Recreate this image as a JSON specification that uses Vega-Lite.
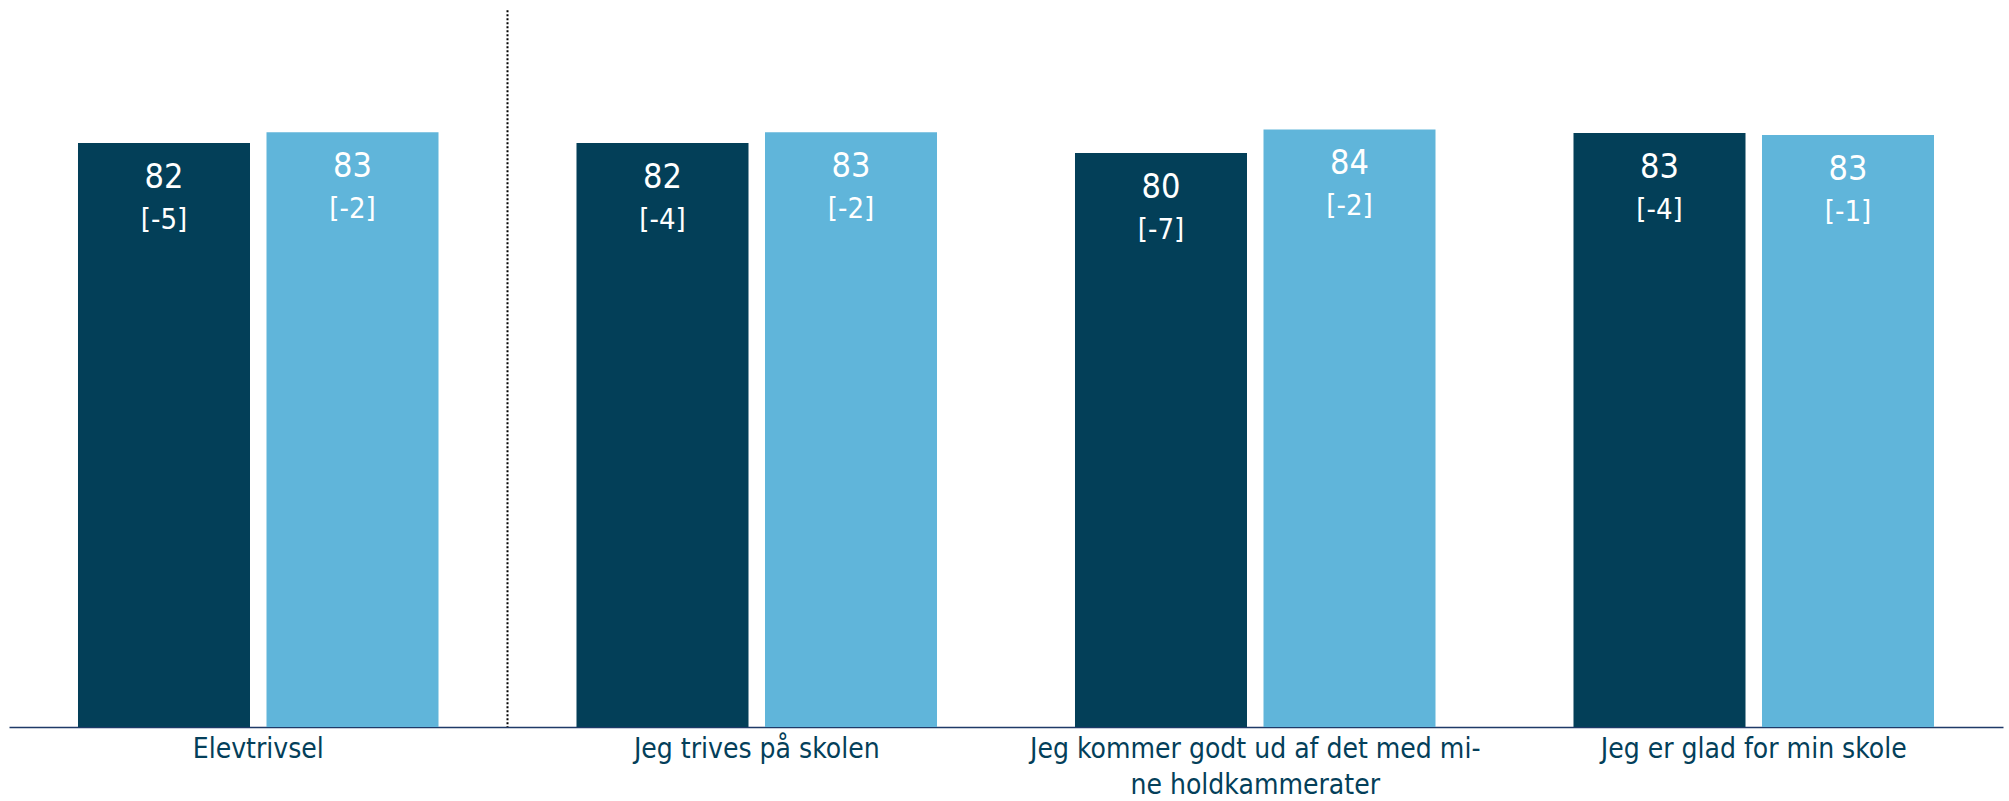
{
  "$schema": "https://vega.github.io/schema/vega-lite/v6.json",
  "width": 1994,
  "height": 714,
  "autosize": "none",
  "padding": {"left": 9, "top": 13, "right": 6, "bottom": 74},
  "background": "white",
  "config": {"view": {"stroke": null}, "font": "DejaVu Sans Condensed"},
  "data": {
    "values": [
      {"kategori": "Elevtrivsel", "gruppe": "A", "vaerdi": 81.8, "tal": "82", "aendring": "[-5]"},
      {"kategori": "Elevtrivsel", "gruppe": "B", "vaerdi": 83.3, "tal": "83", "aendring": "[-2]"},
      {"kategori": "Jeg trives på skolen", "gruppe": "A", "vaerdi": 81.8, "tal": "82", "aendring": "[-4]"},
      {"kategori": "Jeg trives på skolen", "gruppe": "B", "vaerdi": 83.3, "tal": "83", "aendring": "[-2]"},
      {"kategori": "Jeg kommer godt ud af det med mine holdkammerater", "gruppe": "A", "vaerdi": 80.4, "tal": "80", "aendring": "[-7]"},
      {"kategori": "Jeg kommer godt ud af det med mine holdkammerater", "gruppe": "B", "vaerdi": 83.7, "tal": "84", "aendring": "[-2]"},
      {"kategori": "Jeg er glad for min skole", "gruppe": "A", "vaerdi": 83.2, "tal": "83", "aendring": "[-4]"},
      {"kategori": "Jeg er glad for min skole", "gruppe": "B", "vaerdi": 82.9, "tal": "83", "aendring": "[-1]"}
    ]
  },
  "layer": [
    {
      "mark": {"type": "bar"},
      "encoding": {
        "x": {
          "field": "kategori", "type": "nominal", "sort": null, "title": null,
          "scale": {"paddingInner": 0, "paddingOuter": 0},
          "axis": {
            "labelAngle": 0, "ticks": false, "grid": false,
            "domainColor": "#1F3A68", "domainWidth": 1.5,
            "labelFontSize": 28, "labelColor": "#043F5A", "labelPadding": 8,
            "labelLineHeight": 36, "labelLimit": 0,
            "labelExpr": "datum.value == 'Jeg kommer godt ud af det med mine holdkammerater' ? ['Jeg kommer godt ud af det med mi-', 'ne holdkammerater'] : datum.label"
          }
        },
        "xOffset": {"field": "gruppe", "type": "nominal", "scale": {"paddingInner": 0.0875, "paddingOuter": 0.366}},
        "y": {"field": "vaerdi", "type": "quantitative", "axis": null, "scale": {"domain": [0, 100], "nice": false}},
        "color": {"field": "gruppe", "type": "nominal", "legend": null, "scale": {"domain": ["A", "B"], "range": ["#033F58", "#60B5DA"]}}
      }
    },
    {
      "mark": {"type": "text", "baseline": "middle", "align": "center", "dy": 35, "fontSize": 34, "color": "white"},
      "encoding": {
        "x": {"field": "kategori", "type": "nominal", "sort": null},
        "xOffset": {"field": "gruppe", "type": "nominal"},
        "y": {"field": "vaerdi", "type": "quantitative"},
        "text": {"field": "tal"}
      }
    },
    {
      "mark": {"type": "text", "baseline": "middle", "align": "center", "dy": 77, "fontSize": 29, "color": "white"},
      "encoding": {
        "x": {"field": "kategori", "type": "nominal", "sort": null},
        "xOffset": {"field": "gruppe", "type": "nominal"},
        "y": {"field": "vaerdi", "type": "quantitative"},
        "text": {"field": "aendring"}
      }
    },
    {
      "data": {"values": [{"skille": 1}]},
      "mark": {"type": "rule", "strokeDash": [2, 2], "strokeWidth": 2, "color": "black"},
      "encoding": {
        "x": {"datum": "Jeg trives på skolen", "type": "nominal", "bandPosition": 0},
        "y": {"datum": 100.4, "type": "quantitative"},
        "y2": {"datum": 0}
      }
    }
  ]
}
